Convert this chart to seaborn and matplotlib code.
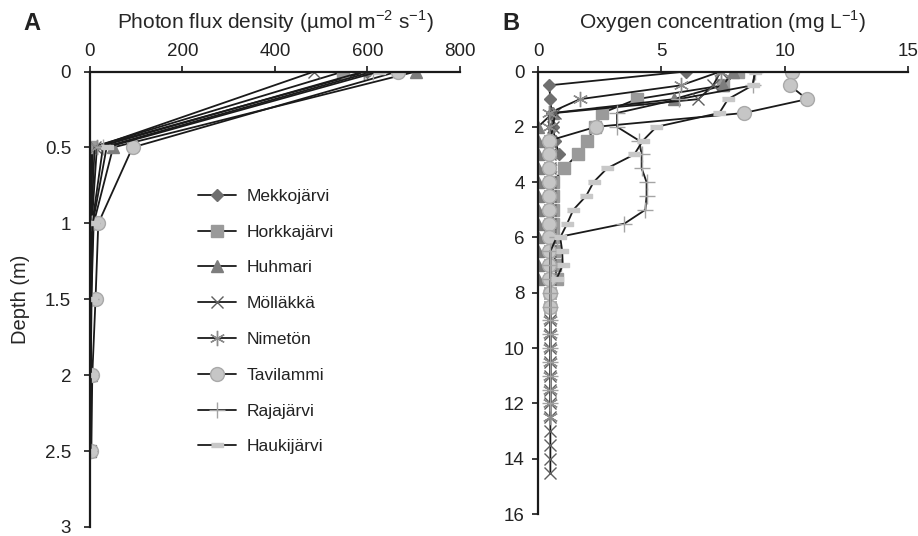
import numpy as np
import pandas as pd
import seaborn as sns
import matplotlib.pyplot as plt
from matplotlib.ticker import FormatStrFormatter, MultipleLocator

# ---------------------------------------------------------------------------- #
#                                     Datos                                    #
# ---------------------------------------------------------------------------- #
lagos = ["Mekkojärvi", "Horkkajärvi", "Huhmari", "Mölläkkä",
         "Nimetön", "Tavilammi", "Rajajärvi", "Haukijärvi"]

# panel A: luz (µmol m-2 s-1) a 0, 0.5, 1, 1.5, 2, 2.5 m
prof_luz = [0, 0.5, 1.0, 1.5, 2.0, 2.5]
luz_mekkojarvi = [600, 6, 2, 1, 1, 1]
luz_horkkajarvi = [548, 3, 1, 0.5, 0.5, 0.5]
luz_huhmari = [705, 50, 8, 3, 2, 1]
luz_mollakka = [485, 10, 3, 1, 1, 1]
luz_nimeton = [592, 15, 4, 2, 1, 1]
luz_tavilammi = [665, 92, 18, 12, 5, 3]
luz_rajajarvi = [612, 28, 5, 2, 1, 1]
luz_haukijarvi = [625, 36, 6, 3, 2, 1]

# panel B: oxigeno (mg L-1), una lectura cada 0.5 m desde la superficie
prof_ox = np.arange(0, 15, 0.5)
ox_mekkojarvi = [6.0, 0.45, 0.5, 0.55, 0.6, 0.7, 0.85]
ox_horkkajarvi = [8.1, 7.5, 4.0, 2.6, 2.3, 2.0, 1.6, 1.05, 0.6, 0.6, 0.6,
                  0.6, 0.6, 0.65, 0.7, 0.75]
ox_huhmari = [7.9, 7.5, 5.5, 0.6, 0.0, 0.0, 0.0, 0.0, 0.0, 0.0, 0.0, 0.0,
              0.0, 0.0, 0.0, 0.0]
ox_mollakka = [7.4, 7.1, 6.5, 0.7, 0.6, 0.5, 0.5, 0.5, 0.5, 0.5, 0.5, 0.5,
               0.5, 0.5, 0.5, 0.5, 0.5, 0.5, 0.5, 0.5, 0.5, 0.5, 0.5, 0.5,
               0.5, 0.5, 0.5, 0.5, 0.5, 0.5]
ox_nimeton = [7.4, 5.8, 1.7, 0.45, 0.45, 0.5, 0.5, 0.5, 0.5, 0.5, 0.5, 0.5,
              0.5, 0.5, 0.5, 0.5, 0.5, 0.5, 0.5, 0.5, 0.5, 0.5, 0.5, 0.5,
              0.5, 0.5]
ox_tavilammi = [10.3, 10.2, 10.9, 8.35, 2.35, 0.45, 0.45, 0.45, 0.45, 0.45,
                0.45, 0.45, 0.45, 0.45, 0.45, 0.45, 0.5, 0.5]
ox_rajajarvi = [8.8, 8.7, 5.7, 3.2, 3.2, 4.1, 4.2, 4.2, 4.4, 4.4, 4.35, 3.5,
                0.75, 0.5, 0.5, 0.5, 0.5, 0.5, 0.5, 0.5, 0.5, 0.5, 0.5, 0.5,
                0.5]
ox_haukijarvi = [8.8, 8.7, 7.7, 7.35, 4.8, 4.25, 3.9, 2.8, 2.25, 1.95, 1.43,
                 1.18, 0.9, 0.98, 1.0, 0.75]

luz = [luz_mekkojarvi, luz_horkkajarvi, luz_huhmari, luz_mollakka,
       luz_nimeton, luz_tavilammi, luz_rajajarvi, luz_haukijarvi]
ox = [ox_mekkojarvi, ox_horkkajarvi, ox_huhmari, ox_mollakka,
      ox_nimeton, ox_tavilammi, ox_rajajarvi, ox_haukijarvi]

# marcador, relleno, borde, tamanio
rect = [(-1, -0.3), (1, -0.3), (1, 0.3), (-1, 0.3)]
estilos = [
    ("D", "#6f6f6f", "#6f6f6f", 6.5),
    ("s", "#9a9a9a", "#9a9a9a", 8.5),
    ("^", "#7d7d7d", "#7d7d7d", 9),
    ("x", "#5e5e5e", "#5e5e5e", 8),
    ((6, 2, 0), "#8c8c8c", "#8c8c8c", 11),
    ("o", "#c6c6c6", "#a9a9a9", 10),
    ("+", "#a4a4a4", "#a4a4a4", 12),
    (rect, "#c8c8c8", "#c8c8c8", 9),
]

# ---------------------------------------------------------------------------- #
#                                    Grafico                                   #
# ---------------------------------------------------------------------------- #
sns.set_theme(style="white")
plt.rcParams["font.family"] = ["Liberation Sans", "DejaVu Sans"]
plt.rcParams["text.color"] = "#222222"

fig = plt.figure(figsize=(9.18, 5.36), dpi=100)
ax_a = fig.add_axes([0.0980, 0.0168, 0.4031, 0.8498])
ax_b = fig.add_axes([0.5861, 0.0410, 0.4031, 0.8256])

for i, lago in enumerate(lagos):
    m, fc, ec, ms = estilos[i]
    kw = dict(color="#1a1a1a", linewidth=1.3, marker=m, markersize=ms,
              markerfacecolor=fc, markeredgecolor=ec, markeredgewidth=1.0,
              sort=False, estimator=None, legend=False)
    df_a = pd.DataFrame({"luz": luz[i], "prof": prof_luz})
    sns.lineplot(data=df_a, x="luz", y="prof", ax=ax_a, label=lago, **kw)
    df_b = pd.DataFrame({"ox": ox[i], "prof": prof_ox[:len(ox[i])]})
    sns.lineplot(data=df_b, x="ox", y="prof", ax=ax_b, **kw)

for ax in (ax_a, ax_b):
    ax.xaxis.tick_top()
    ax.xaxis.set_label_position("top")
    ax.spines["right"].set_visible(False)
    ax.spines["bottom"].set_visible(False)
    for s in ("left", "top"):
        ax.spines[s].set_color("#1a1a1a")
        ax.spines[s].set_linewidth(1.6)
    ax.tick_params(axis="both", which="major", length=4.5, width=1.2,
                   color="#1a1a1a", labelsize=13.5, labelcolor="#222222",
                   direction="out")
    ax.tick_params(axis="x", top=True, bottom=False, pad=4)
    ax.tick_params(axis="y", left=True)
    ax.grid(False)

ax_a.tick_params(axis="y", pad=9)
ax_b.tick_params(axis="y", pad=5)

ax_a.set_xlim(0, 800)
ax_a.set_ylim(3, 0)
ax_a.xaxis.set_major_locator(MultipleLocator(200))
ax_a.yaxis.set_major_locator(MultipleLocator(0.5))
ax_a.yaxis.set_major_formatter(FormatStrFormatter("%g"))
ax_a.set_xlabel("Photon flux density (µmol m$^{\\mathregular{-2}}$ s$^{\\mathregular{-1}}$)",
                fontsize=15, labelpad=10)
ax_a.set_ylabel("Depth (m)", fontsize=14.5, labelpad=11)

ax_b.set_xlim(0, 15)
ax_b.set_ylim(16, 0)
ax_b.xaxis.set_major_locator(MultipleLocator(5))
ax_b.yaxis.set_major_locator(MultipleLocator(2))
ax_b.set_xlabel("Oxygen concentration (mg L$^{\\mathregular{-1}}$)",
                fontsize=15, labelpad=10)
ax_b.set_ylabel("")

fig.text(0.025, 0.978, "A", fontsize=17, fontweight="bold", va="top")
fig.text(0.547, 0.978, "B", fontsize=17, fontweight="bold", va="top")

ax_a.legend(loc="upper left", bbox_to_anchor=(0.2083, 0.661),
            bbox_transform=fig.transFigure, frameon=False, fontsize=12.5,
            handlelength=2.2, labelspacing=1.19, handletextpad=0.6,
            borderaxespad=0)

fig.savefig("out.png", dpi=100)
